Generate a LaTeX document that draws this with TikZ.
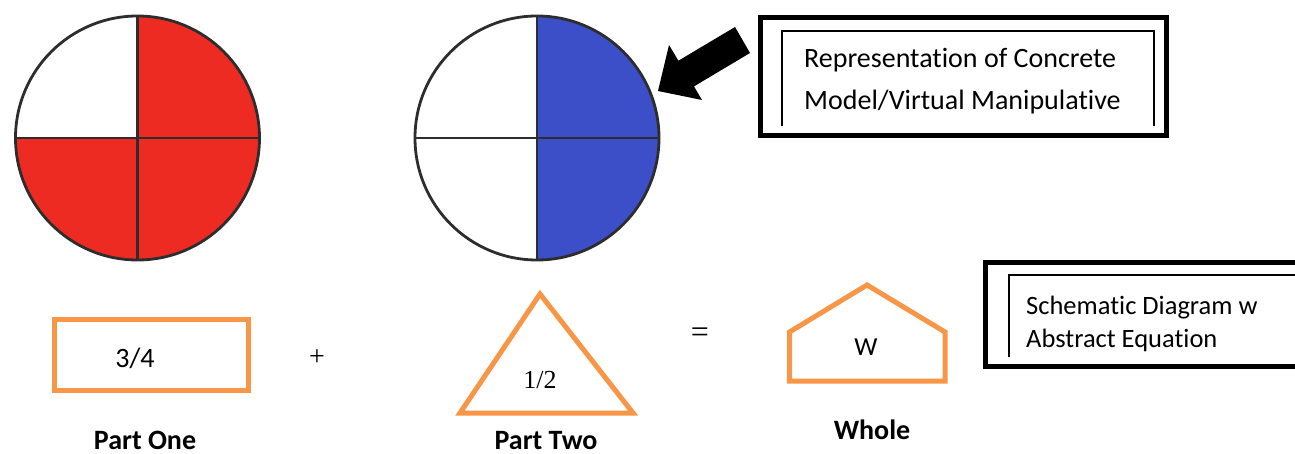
\documentclass[tikz,border=0pt]{standalone}
\usepackage{fontspec}
\setmainfont[Ligatures=NoCommon]{Carlito}
\newfontfamily\timesfont{Liberation Serif}
\definecolor{pieRed}{RGB}{238,43,34}
\definecolor{pieBlue}{RGB}{60,79,200}
\definecolor{shapeOrange}{RGB}{247,150,70}
\definecolor{pieLine}{RGB}{45,45,45}
\tikzset{
  pieedge/.style={draw=pieLine, line width=2.8pt},
  orangeshape/.style={draw=shapeOrange, line width=5pt, line join=miter},
  outerframe/.style={draw=black, line width=5pt},
  innerframe/.style={draw=black, line width=1.6pt},
  boxtext/.style={font=\fontsize{28}{34}\selectfont, anchor=base west, inner sep=0pt},
  smallboxtext/.style={font=\fontsize{26.5}{32}\selectfont, anchor=base west, inner sep=0pt},
  partlabel/.style={font=\fontsize{28}{34}\selectfont\bfseries, anchor=base, inner sep=0pt},
}
\begin{document}
\begin{tikzpicture}[x=1pt,y=-1pt]
\useasboundingbox (0,0) rectangle (1295,454);
\clip (0,0) rectangle (1295,454);

% ---- three-quarters pie (red) ----
\coordinate (pa) at (137.5,138);
\fill[pieRed] (pa) -- ++(0,-122) arc[start angle=270, end angle=360, radius=122] -- cycle;
\fill[pieRed] (pa) -- ++(122,0) arc[start angle=0, end angle=180, radius=122] -- cycle;
\draw[pieedge] (pa) circle[radius=122];
\draw[pieedge] ([yshift=-122]pa) -- ([yshift=122]pa);
\draw[pieedge] ([xshift=-122]pa) -- ([xshift=122]pa);

% ---- one-half pie (blue) ----
\coordinate (pb) at (537,138);
\fill[pieBlue] (pb) -- ++(0,-122) arc[start angle=270, end angle=450, radius=122] -- cycle;
\draw[pieedge] (pb) circle[radius=122];
\draw[pieedge] ([yshift=-122]pb) -- ([yshift=122]pb);
\draw[pieedge] ([xshift=-122]pb) -- ([xshift=122]pb);

% ---- pointer arrow ----
\fill[black] (735,27) -- (750,53) -- (694,86.4) -- (702,100) -- (658,91)
  -- (669,45) -- (678.4,60.7) -- cycle;

% ---- label box: concrete model ----
\draw[outerframe] (760,17.5) rectangle (1166,136);
\draw[innerframe] (782,126) -- (782,31) -- (1154,31) -- (1154,126);
\node[boxtext] (cm1) at (804,68) {Representation of Concrete};
\node[boxtext] (cm2) at (804,110) {Model/Virtual Manipulative};

% ---- label box: schematic diagram ----
\draw[outerframe] (1310,262.5) -- (985.5,262.5) -- (985.5,366) -- (1310,366);
\draw[innerframe] (1009,357) -- (1009,275) -- (1310,275);
\node[smallboxtext] (sd1) at (1026,314) {Schematic Diagram w};
\node[smallboxtext] (sd2) at (1026,347) {Abstract Equation};

% ---- part one ----
\draw[orangeshape] (54.5,319.5) rectangle (248,390);
\node[font=\fontsize{28}{34}\selectfont, anchor=base, inner sep=0pt] (p1) at (135,367) {3/4};
\node[font=\timesfont\fontsize{28}{32}\selectfont, inner sep=0pt] (plus) at (317,358) {+};

% ---- part two ----
\draw[orangeshape] (540,294) -- (633,413) -- (460,413) -- cycle;
\node[font=\timesfont\fontsize{26}{30}\selectfont, anchor=base, inner sep=0pt] (p2) at (540,388) {1/2};
\node[font=\timesfont\fontsize{32}{36}\selectfont, inner sep=0pt] (eq) at (700,335) {=};

% ---- whole ----
\draw[orangeshape] (789.5,381) -- (789.5,332) -- (867,285) -- (945,332) -- (945,381) -- cycle;
\node[font=\fontsize{26}{30}\selectfont, anchor=base, inner sep=0pt] (w) at (866,355) {W};

% ---- captions ----
\node[partlabel] (l1) at (145,449) {Part One};
\node[partlabel] (l2) at (546,449) {Part Two};
\node[partlabel] (l3) at (872,439) {Whole};
\end{tikzpicture}
\end{document}
